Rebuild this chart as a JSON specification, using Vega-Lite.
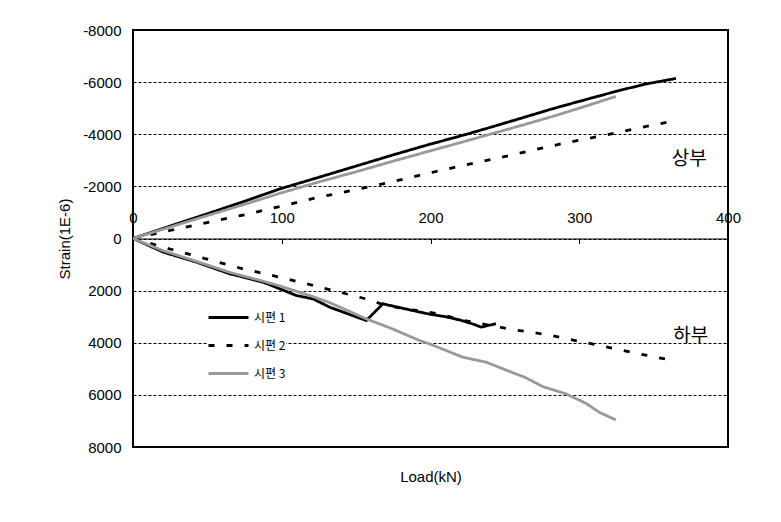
{
  "$schema": "https://vega.github.io/schema/vega-lite/v6.json",
  "width": 595,
  "height": 417,
  "autosize": "none",
  "padding": {"left": 133, "top": 30, "right": 53, "bottom": 75},
  "background": "white",
  "config": {
    "view": {"stroke": "black", "strokeWidth": 2},
    "font": "Liberation Sans"
  },
  "layer": [
    {
      "data": {
        "values": [
          {"specimen": "시편 1", "part": "상부", "load": 0, "strain": 0},
          {"specimen": "시편 1", "part": "상부", "load": 25, "strain": -480},
          {"specimen": "시편 1", "part": "상부", "load": 50, "strain": -950},
          {"specimen": "시편 1", "part": "상부", "load": 75, "strain": -1430},
          {"specimen": "시편 1", "part": "상부", "load": 99, "strain": -1907},
          {"specimen": "시편 1", "part": "상부", "load": 125, "strain": -2350},
          {"specimen": "시편 1", "part": "상부", "load": 150, "strain": -2780},
          {"specimen": "시편 1", "part": "상부", "load": 175, "strain": -3210},
          {"specimen": "시편 1", "part": "상부", "load": 199, "strain": -3607},
          {"specimen": "시편 1", "part": "상부", "load": 218, "strain": -3900},
          {"specimen": "시편 1", "part": "상부", "load": 237, "strain": -4210},
          {"specimen": "시편 1", "part": "상부", "load": 260, "strain": -4600},
          {"specimen": "시편 1", "part": "상부", "load": 282, "strain": -4977},
          {"specimen": "시편 1", "part": "상부", "load": 305, "strain": -5340},
          {"specimen": "시편 1", "part": "상부", "load": 327, "strain": -5680},
          {"specimen": "시편 1", "part": "상부", "load": 345, "strain": -5930},
          {"specimen": "시편 1", "part": "상부", "load": 365, "strain": -6140},
          {"specimen": "시편 1", "part": "하부", "load": 0, "strain": 0},
          {"specimen": "시편 1", "part": "하부", "load": 20.4, "strain": 525},
          {"specimen": "시편 1", "part": "하부", "load": 42.7, "strain": 909},
          {"specimen": "시편 1", "part": "하부", "load": 65.1, "strain": 1356},
          {"specimen": "시편 1", "part": "하부", "load": 87.5, "strain": 1676},
          {"specimen": "시편 1", "part": "하부", "load": 98.7, "strain": 1932},
          {"specimen": "시편 1", "part": "하부", "load": 109.8, "strain": 2188},
          {"specimen": "시편 1", "part": "하부", "load": 121, "strain": 2316},
          {"specimen": "시편 1", "part": "하부", "load": 132.2, "strain": 2635},
          {"specimen": "시편 1", "part": "하부", "load": 156.8, "strain": 3147},
          {"specimen": "시편 1", "part": "하부", "load": 168, "strain": 2507},
          {"specimen": "시편 1", "part": "하부", "load": 188, "strain": 2763},
          {"specimen": "시편 1", "part": "하부", "load": 199, "strain": 2900},
          {"specimen": "시편 1", "part": "하부", "load": 210, "strain": 3000},
          {"specimen": "시편 1", "part": "하부", "load": 220, "strain": 3130},
          {"specimen": "시편 1", "part": "하부", "load": 229, "strain": 3290},
          {"specimen": "시편 1", "part": "하부", "load": 234, "strain": 3400},
          {"specimen": "시편 1", "part": "하부", "load": 244, "strain": 3270},
          {"specimen": "시편 2", "part": "상부", "load": 0, "strain": 0},
          {"specimen": "시편 2", "part": "상부", "load": 24.8, "strain": -307},
          {"specimen": "시편 2", "part": "상부", "load": 51.2, "strain": -627},
          {"specimen": "시편 2", "part": "상부", "load": 75.8, "strain": -921},
          {"specimen": "시편 2", "part": "상부", "load": 98.7, "strain": -1228},
          {"specimen": "시편 2", "part": "상부", "load": 122.1, "strain": -1547},
          {"specimen": "시편 2", "part": "상부", "load": 146.8, "strain": -1842},
          {"specimen": "시편 2", "part": "상부", "load": 171.4, "strain": -2137},
          {"specimen": "시편 2", "part": "상부", "load": 194.9, "strain": -2456},
          {"specimen": "시편 2", "part": "상부", "load": 218.8, "strain": -2763},
          {"specimen": "시편 2", "part": "상부", "load": 243, "strain": -3058},
          {"specimen": "시편 2", "part": "상부", "load": 267.1, "strain": -3365},
          {"specimen": "시편 2", "part": "상부", "load": 291, "strain": -3672},
          {"specimen": "시편 2", "part": "상부", "load": 315.2, "strain": -3941},
          {"specimen": "시편 2", "part": "상부", "load": 339.3, "strain": -4233},
          {"specimen": "시편 2", "part": "상부", "load": 363.8, "strain": -4516},
          {"specimen": "시편 2", "part": "하부", "load": 0, "strain": 0},
          {"specimen": "시편 2", "part": "하부", "load": 26, "strain": 422},
          {"specimen": "시편 2", "part": "하부", "load": 50.6, "strain": 806},
          {"specimen": "시편 2", "part": "하부", "load": 74, "strain": 1164},
          {"specimen": "시편 2", "part": "하부", "load": 98.7, "strain": 1484},
          {"specimen": "시편 2", "part": "하부", "load": 123.2, "strain": 1830},
          {"specimen": "시편 2", "part": "하부", "load": 147.8, "strain": 2188},
          {"specimen": "시편 2", "part": "하부", "load": 159, "strain": 2354},
          {"specimen": "시편 2", "part": "하부", "load": 170, "strain": 2572},
          {"specimen": "시편 2", "part": "하부", "load": 188, "strain": 2740},
          {"specimen": "시편 2", "part": "하부", "load": 206, "strain": 2891},
          {"specimen": "시편 2", "part": "하부", "load": 219.5, "strain": 3109},
          {"specimen": "시편 2", "part": "하부", "load": 230.7, "strain": 3237},
          {"specimen": "시편 2", "part": "하부", "load": 255.2, "strain": 3492},
          {"specimen": "시편 2", "part": "하부", "load": 279.2, "strain": 3697},
          {"specimen": "시편 2", "part": "하부", "load": 303, "strain": 3979},
          {"specimen": "시편 2", "part": "하부", "load": 327.5, "strain": 4273},
          {"specimen": "시편 2", "part": "하부", "load": 351.3, "strain": 4554},
          {"specimen": "시편 2", "part": "하부", "load": 363.8, "strain": 4682},
          {"specimen": "시편 3", "part": "상부", "load": 0, "strain": 0},
          {"specimen": "시편 3", "part": "상부", "load": 25, "strain": -440},
          {"specimen": "시편 3", "part": "상부", "load": 50, "strain": -880},
          {"specimen": "시편 3", "part": "상부", "load": 75, "strain": -1310},
          {"specimen": "시편 3", "part": "상부", "load": 99, "strain": -1740},
          {"specimen": "시편 3", "part": "상부", "load": 125, "strain": -2170},
          {"specimen": "시편 3", "part": "상부", "load": 150, "strain": -2560},
          {"specimen": "시편 3", "part": "상부", "load": 175, "strain": -2970},
          {"specimen": "시편 3", "part": "상부", "load": 199, "strain": -3350},
          {"specimen": "시편 3", "part": "상부", "load": 215, "strain": -3600},
          {"specimen": "시편 3", "part": "상부", "load": 237, "strain": -3952},
          {"specimen": "시편 3", "part": "상부", "load": 260, "strain": -4320},
          {"specimen": "시편 3", "part": "상부", "load": 282, "strain": -4682},
          {"specimen": "시편 3", "part": "상부", "load": 300, "strain": -5000},
          {"specimen": "시편 3", "part": "상부", "load": 313.4, "strain": -5245},
          {"specimen": "시편 3", "part": "상부", "load": 324.6, "strain": -5450},
          {"specimen": "시편 3", "part": "하부", "load": 0, "strain": 0},
          {"specimen": "시편 3", "part": "하부", "load": 20.4, "strain": 470},
          {"specimen": "시편 3", "part": "하부", "load": 42.7, "strain": 880},
          {"specimen": "시편 3", "part": "하부", "load": 65.1, "strain": 1300},
          {"specimen": "시편 3", "part": "하부", "load": 87.5, "strain": 1640},
          {"specimen": "시편 3", "part": "하부", "load": 98.7, "strain": 1820},
          {"specimen": "시편 3", "part": "하부", "load": 121, "strain": 2230},
          {"specimen": "시편 3", "part": "하부", "load": 132.2, "strain": 2460},
          {"specimen": "시편 3", "part": "하부", "load": 156.8, "strain": 3083},
          {"specimen": "시편 3", "part": "하부", "load": 175, "strain": 3480},
          {"specimen": "시편 3", "part": "하부", "load": 192.6, "strain": 3914},
          {"specimen": "시편 3", "part": "하부", "load": 199.3, "strain": 4042},
          {"specimen": "시편 3", "part": "하부", "load": 221.7, "strain": 4554},
          {"specimen": "시편 3", "part": "하부", "load": 237.4, "strain": 4746},
          {"specimen": "시편 3", "part": "하부", "load": 250, "strain": 5030},
          {"specimen": "시편 3", "part": "하부", "load": 264.2, "strain": 5346},
          {"specimen": "시편 3", "part": "하부", "load": 275.4, "strain": 5680},
          {"specimen": "시편 3", "part": "하부", "load": 291, "strain": 5961},
          {"specimen": "시편 3", "part": "하부", "load": 304.4, "strain": 6321},
          {"specimen": "시편 3", "part": "하부", "load": 313.4, "strain": 6666},
          {"specimen": "시편 3", "part": "하부", "load": 324.6, "strain": 6960}
        ]
      },
      "mark": {"type": "line", "strokeWidth": 2.8, "clip": true},
      "encoding": {
        "x": {
          "field": "load",
          "type": "quantitative",
          "scale": {"domain": [0, 400], "nice": false},
          "axis": {
            "title": null,
            "orient": "bottom",
            "values": [0, 100, 200, 300, 400],
            "offset": -208.5,
            "domainColor": "black",
            "domainWidth": 1,
            "tickColor": "black",
            "tickSize": 5,
            "labelBaseline": "middle",
            "labelPadding": -26,
            "labelFontSize": 15,
            "labelColor": "black",
            "labelFlush": false,
            "labelOverlap": false,
            "grid": false
          }
        },
        "y": {
          "field": "strain",
          "type": "quantitative",
          "scale": {"domain": [-8000, 8000], "reverse": true, "nice": false},
          "axis": {
            "title": "Strain(1E-6)",
            "titleFontSize": 15,
            "titleFontWeight": "normal",
            "titleColor": "black",
            "titlePadding": 10,
            "values": [-8000, -6000, -4000, -2000, 0, 2000, 4000, 6000, 8000],
            "labelExpr": "'' + datum.value",
            "labelFontSize": 15,
            "labelColor": "black",
            "labelPadding": 12,
            "labelFlush": false,
            "labelOverlap": false,
            "ticks": false,
            "domain": false,
            "grid": true,
            "gridColor": "black",
            "gridDash": [3, 2],
            "gridWidth": 1,
            "gridOpacity": 1
          }
        },
        "color": {
          "field": "specimen",
          "type": "nominal",
          "scale": {"domain": ["시편 1", "시편 2", "시편 3"], "range": ["#000000", "#000000", "#999999"]},
          "legend": {
            "title": null,
            "orient": "none",
            "legendX": 74,
            "legendY": 266,
            "symbolType": "stroke",
            "symbolSize": 1600,
            "symbolStrokeWidth": 3,
            "labelFontSize": 12,
            "labelFont": "Noto Sans CJK KR",
            "labelColor": "black",
            "labelOffset": 4,
            "padding": 0,
            "rowPadding": -6,
            "fillColor": "white",
            "strokeColor": null
          }
        },
        "strokeDash": {
          "field": "specimen",
          "type": "nominal",
          "scale": {"domain": ["시편 1", "시편 2", "시편 3"], "range": [[1, 0], [6, 12], [1, 0]]},
          "legend": {
            "title": null,
            "orient": "none",
            "legendX": 74,
            "legendY": 266,
            "symbolType": "stroke",
            "symbolSize": 1600,
            "symbolStrokeWidth": 3,
            "labelFontSize": 12,
            "labelFont": "Noto Sans CJK KR",
            "labelColor": "black",
            "labelOffset": 4,
            "padding": 0,
            "rowPadding": -6,
            "fillColor": "white",
            "strokeColor": null
          }
        },
        "detail": {"field": "part", "type": "nominal"}
      }
    },
    {
      "data": {
        "values": [
          {"load": 374, "strain": -3050, "label": "상부"},
          {"load": 375, "strain": 3724, "label": "하부"}
        ]
      },
      "mark": {"type": "text", "fontSize": 19, "font": "Noto Sans CJK KR", "color": "black", "align": "center", "baseline": "middle"},
      "encoding": {
        "x": {
          "field": "load",
          "type": "quantitative",
          "axis": {
            "title": "Load(kN)",
            "orient": "bottom",
            "titleFontSize": 15,
            "titleFontWeight": "normal",
            "titleColor": "black",
            "titlePadding": 22,
            "domain": false,
            "ticks": false,
            "labels": false,
            "grid": false
          }
        },
        "y": {"field": "strain", "type": "quantitative", "axis": {"title": "Strain(1E-6)"}},
        "text": {"field": "label"}
      }
    }
  ],
  "resolve": {"axis": {"x": "independent"}}
}
